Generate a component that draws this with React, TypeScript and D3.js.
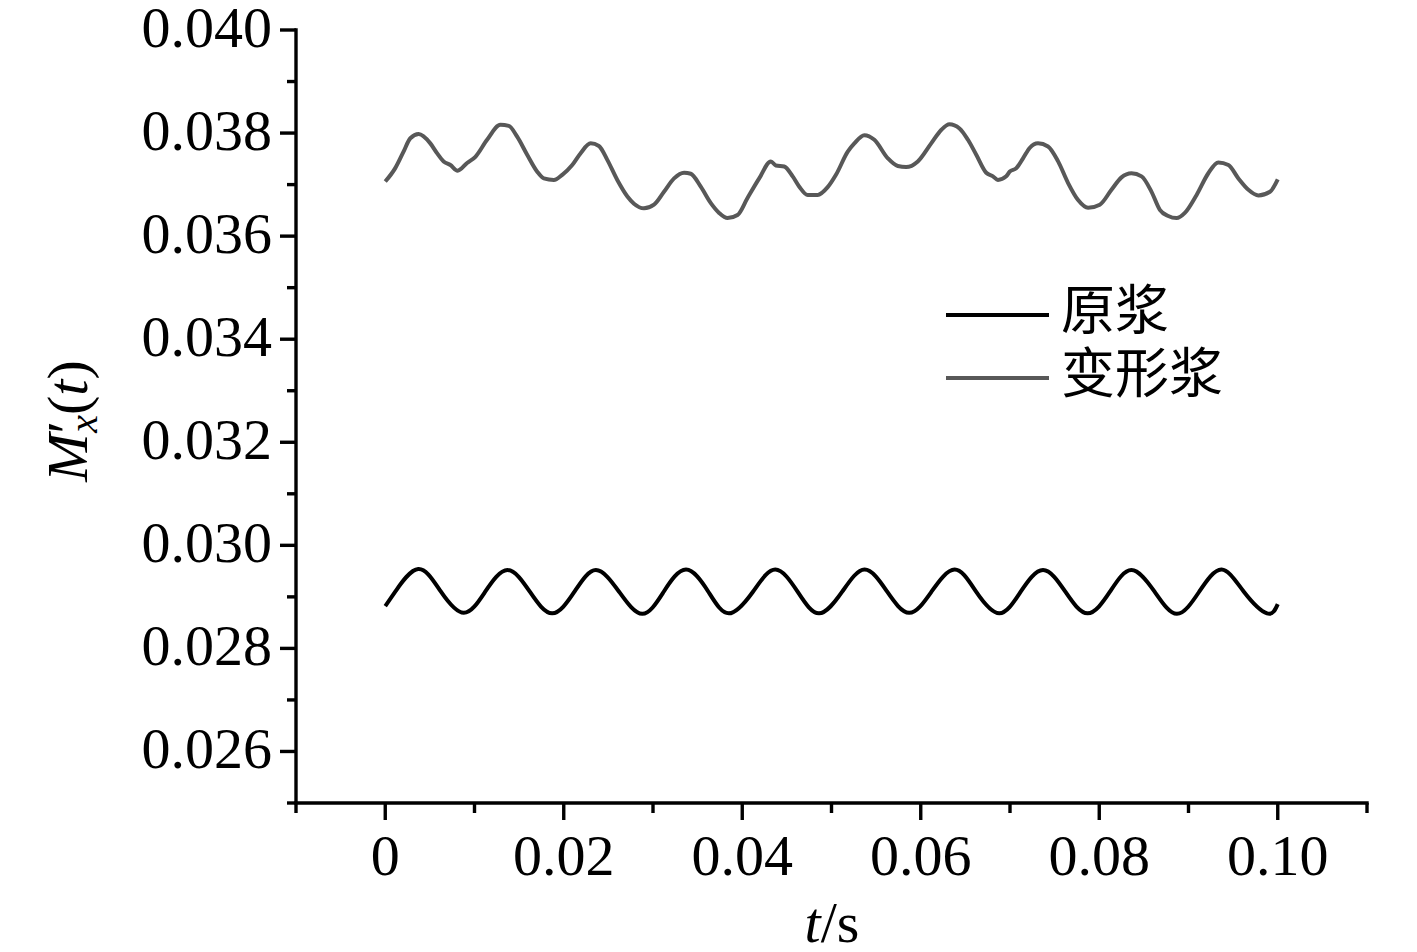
import React from "react";
import * as d3 from "d3";

// ---- data ----
const xTickValues = [0, 0.02, 0.04, 0.06, 0.08, 0.1];
const xTickLabels = ["0", "0.02", "0.04", "0.06", "0.08", "0.10"];
const xMinorValues = [-0.01, 0.01, 0.03, 0.05, 0.07, 0.09, 0.11];
const yTickValues = [0.026, 0.028, 0.03, 0.032, 0.034, 0.036, 0.038, 0.04];
const yTickLabels = ["0.026", "0.028", "0.030", "0.032", "0.034", "0.036", "0.038", "0.040"];
const yMinorValues = [0.025, 0.027, 0.029, 0.031, 0.033, 0.035, 0.037, 0.039];

const seriesNames = ["原浆", "变形浆"];

// 原浆 (original propeller)
const origT = [
  0, 0.0012, 0.0037, 0.0062, 0.0088, 0.0112, 0.0137, 0.0162, 0.0187, 0.0212,
  0.0236, 0.0262, 0.0288, 0.0312, 0.0337, 0.0362, 0.0385, 0.0412, 0.0437, 0.0462,
  0.0486, 0.0512, 0.0537, 0.0562, 0.0587, 0.0612, 0.0638, 0.0662, 0.0688, 0.0712,
  0.0737, 0.0762, 0.0787, 0.0812, 0.0836, 0.0862, 0.0887, 0.0912, 0.0937, 0.0962,
  0.0988, 0.1,
];
const origV = [
  0.02882, 0.02912, 0.02954, 0.02911, 0.02869, 0.0291, 0.02952, 0.0291, 0.02868, 0.0291,
  0.02952, 0.0291, 0.02867, 0.0291, 0.02953, 0.0291, 0.02868, 0.0291, 0.02953, 0.0291,
  0.02868, 0.0291, 0.02953, 0.02911, 0.02869, 0.0291, 0.02953, 0.0291, 0.02868, 0.0291,
  0.02952, 0.0291, 0.02868, 0.0291, 0.02952, 0.0291, 0.02867, 0.0291, 0.02953, 0.0291,
  0.02868, 0.02886,
];

// 变形浆 (deformed propeller)
const defT = [
  0, 0.00112, 0.00205, 0.00281, 0.00374, 0.00505, 0.0058, 0.00654, 0.0073, 0.00811,
  0.00917, 0.0101, 0.01141, 0.01291, 0.01384, 0.01478, 0.0159, 0.01703, 0.01777, 0.01889,
  0.01983, 0.02095, 0.02189, 0.02301, 0.02394, 0.02488, 0.026, 0.02713, 0.02787, 0.02899,
  0.03011, 0.03123, 0.03236, 0.03348, 0.03423, 0.03535, 0.03648, 0.03741, 0.03835, 0.03947,
  0.04059, 0.0419, 0.04321, 0.04377, 0.0447, 0.04565, 0.04639, 0.04733, 0.04845, 0.04957,
  0.0505, 0.05182, 0.05256, 0.05368, 0.0548, 0.05631, 0.05743, 0.05836, 0.05967, 0.06117,
  0.06229, 0.06322, 0.06434, 0.06529, 0.06622, 0.06734, 0.06809, 0.06865, 0.06958, 0.06996,
  0.07071, 0.07146, 0.0722, 0.07314, 0.07426, 0.07539, 0.07651, 0.07763, 0.07875, 0.08006,
  0.08137, 0.08249, 0.08361, 0.08474, 0.08586, 0.08679, 0.08773, 0.08866, 0.08959, 0.09091,
  0.09222, 0.09334, 0.09447, 0.09559, 0.09671, 0.09783, 0.09913, 0.1,
];
const defV = [
  0.03706, 0.03732, 0.03764, 0.0379, 0.03798, 0.0378, 0.03761, 0.03745, 0.03738, 0.03727,
  0.03742, 0.03754, 0.03787, 0.03816, 0.03814, 0.03793, 0.03758, 0.03725, 0.03712, 0.03709,
  0.03719, 0.03738, 0.03761, 0.0378, 0.03775, 0.03748, 0.03709, 0.03677, 0.03663, 0.03654,
  0.03661, 0.03686, 0.03712, 0.03723, 0.03721, 0.03696, 0.03664, 0.03645, 0.03635, 0.03641,
  0.03674, 0.03712, 0.03745, 0.03737, 0.03735, 0.03716, 0.03696, 0.0368, 0.0368, 0.03695,
  0.03719, 0.03764, 0.0378, 0.03796, 0.03787, 0.03751, 0.03736, 0.03734, 0.03745, 0.0378,
  0.03806, 0.03817, 0.03809, 0.03787, 0.03758, 0.03723, 0.03716, 0.03709, 0.03716, 0.03725,
  0.03732, 0.03751, 0.03771, 0.0378, 0.03774, 0.03745, 0.03703, 0.0367, 0.03655, 0.03661,
  0.0369, 0.03714, 0.03722, 0.03716, 0.03686, 0.03651, 0.03639, 0.03635, 0.03645, 0.0368,
  0.03722, 0.03743, 0.03738, 0.03712, 0.0369, 0.03679, 0.03686, 0.0371,
];

const W = 1417;
const H = 952;
const serif = "'Liberation Serif', 'Times New Roman', serif";
const cjk = "'Noto Sans CJK SC', sans-serif";

export default function App() {
  const x = d3.scaleLinear().domain([-0.01, 0.11]).range([296, 1367]);
  const y = d3.scaleLinear().domain([0.025, 0.04]).range([803, 30]);

  const origData = origT.map((t, i) => [t, origV[i]] as [number, number]);
  const defData = defT.map((t, i) => [t, defV[i]] as [number, number]);

  const smooth = d3
    .line<[number, number]>()
    .x((d) => x(d[0]))
    .y((d) => y(d[1]))
    .curve(d3.curveNatural);
  const wiggly = d3
    .line<[number, number]>()
    .x((d) => x(d[0]))
    .y((d) => y(d[1]))
    .curve(d3.curveMonotoneX);

  const axisW = 3.4;
  const black = "#000";
  const gray = "#585858";
  const fs = 58;
  const x0 = x(-0.01);
  const yBase = y(0.025);

  return (
    <svg
      width={W}
      height={H}
      viewBox={`0 0 ${W} ${H}`}
      style={{ position: "absolute", left: 0, top: 0, background: "#fff" }}
    >
      <rect x={0} y={0} width={W} height={H} fill="#fff" />
      {/* series */}
      <path d={smooth(origData) || ""} fill="none" stroke={black} strokeWidth={4} strokeLinejoin="round" />
      <path d={wiggly(defData) || ""} fill="none" stroke={gray} strokeWidth={4} strokeLinejoin="round" />

      {/* y axis */}
      <line x1={x0} x2={x0} y1={y(0.04) - 1.7} y2={yBase} stroke={black} strokeWidth={axisW} />
      {yTickValues.map((v) => (
        <line key={"ym" + v} x1={x0 - 16} x2={x0} y1={y(v)} y2={y(v)} stroke={black} strokeWidth={axisW} />
      ))}
      {yMinorValues.map((v) => (
        <line key={"yn" + v} x1={x0 - 9} x2={x0} y1={y(v)} y2={y(v)} stroke={black} strokeWidth={axisW} />
      ))}
      {yTickValues.map((v, i) => (
        <text
          key={"yl" + v}
          x={272}
          y={y(v) + 17}
          textAnchor="end"
          fontFamily={serif}
          fontSize={fs}
          fill={black}
        >
          {yTickLabels[i]}
        </text>
      ))}

      {/* x axis */}
      <line x1={x0 - 1.7} x2={x(0.11) + 1.7} y1={yBase} y2={yBase} stroke={black} strokeWidth={axisW} />
      {xTickValues.map((v) => (
        <line key={"xm" + v} x1={x(v)} x2={x(v)} y1={yBase} y2={yBase + 17} stroke={black} strokeWidth={axisW} />
      ))}
      {xMinorValues.map((v) => (
        <line key={"xn" + v} x1={x(v)} x2={x(v)} y1={yBase} y2={yBase + 10} stroke={black} strokeWidth={axisW} />
      ))}
      {xTickValues.map((v, i) => (
        <text
          key={"xl" + v}
          x={x(v)}
          y={875}
          textAnchor="middle"
          fontFamily={serif}
          fontSize={fs}
          fill={black}
        >
          {xTickLabels[i]}
        </text>
      ))}

      {/* axis titles */}
      <text x={832} y={942} textAnchor="middle" fontFamily={serif} fontSize={fs} fill={black}>
        <tspan fontStyle="italic">t</tspan>
        <tspan>/s</tspan>
      </text>
      <text
        transform={`translate(87, 421) rotate(-90)`}
        textAnchor="middle"
        fontFamily={serif}
        fontSize={fs}
        fill={black}
      >
        <tspan fontStyle="italic">M</tspan>
        <tspan>′</tspan>
        <tspan fontStyle="italic" fontSize={40} dx={-12} dy={10}>x</tspan>
        <tspan dy={-10}>(</tspan>
        <tspan fontStyle="italic">t</tspan>
        <tspan>)</tspan>
      </text>

      {/* legend */}
      <line x1={946} x2={1049} y1={315} y2={315} stroke={black} strokeWidth={4} />
      <line x1={946} x2={1049} y1={378} y2={378} stroke={gray} strokeWidth={4} />
      <text x={1061} y={330} fontFamily={cjk} fontSize={54} fill={black}>
        {seriesNames[0]}
      </text>
      <text x={1061} y={393} fontFamily={cjk} fontSize={54} fill={black}>
        {seriesNames[1]}
      </text>
    </svg>
  );
}
